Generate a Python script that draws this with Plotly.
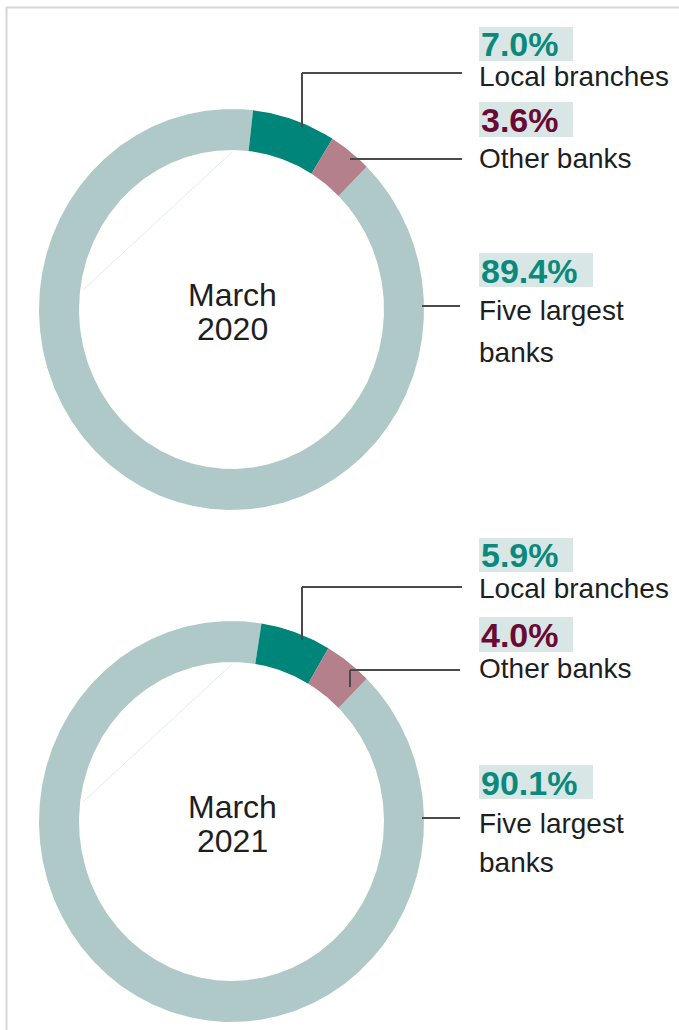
import numpy as np
import plotly.graph_objects as go

# Share of deposits by institution type
panels = ["March 2020", "March 2021"]
categories = ["Five largest banks", "Local branches", "Other banks"]
shares_2020 = [89.4, 7.0, 3.6]
shares_2021 = [90.1, 5.9, 4.0]
share_labels_2020 = ["89.4%", "7.0%", "3.6%"]
share_labels_2021 = ["90.1%", "5.9%", "4.0%"]

# Styling
FONT = "Liberation Sans, Arial, Helvetica, sans-serif"
SLICE_COLORS = ["#afc9c8", "#00857b", "#b3808b"]
VALUE_COLORS = ["#0b897d", "#0b897d", "#6a0a34"]
BOX_COLOR = "#d8e6e5"
TEXT_COLOR = "#1e1e1e"
LEADER_COLOR = "#4a4a4a"

W, H = 679, 1030
CX = 231.5
RX_OUT, RY_OUT = 192.5, 200.5
RING_X, RING_Y = 40, 41
START_DEG = 44.6  # first slice starts here, measured clockwise from 12 o'clock


def ring_segment(cx, cy, a0, a1):
    """Polygon of an elliptical ring slice between angles a0..a1 (deg, clockwise from top)."""
    n = max(int(abs(a1 - a0) * 2), 4)
    t = np.radians(np.linspace(a0, a1, n))
    xo = cx + RX_OUT * np.sin(t)
    yo = cy - RY_OUT * np.cos(t)
    xi = cx + (RX_OUT - RING_X) * np.sin(t[::-1])
    yi = cy - (RY_OUT - RING_Y) * np.cos(t[::-1])
    return np.concatenate([xo, xi, xo[:1]]), np.concatenate([yo, yi, yo[:1]])


fig = go.Figure()
shapes = []
annotations = []

panel_specs = [
    dict(title=panels[0], values=shares_2020, labels=share_labels_2020, cy=309.5,
         boxes=[(253, 287, 593), (27, 61, 573), (102, 137, 573)],
         value_y=[270.5, 43.5, 120],
         name_y=[(310, 352), (76.5,), (158,)],
         leaders=[[(422, 306), (460, 306)],
                  [(302, 127), (302, 73), (462, 73)],
                  [(350, 159), (462, 159)]],
         centre_y=(295, 329)),
    dict(title=panels[1], values=shares_2021, labels=share_labels_2021, cy=821.5,
         boxes=[(765, 799, 593), (538, 572, 573), (617, 652, 573)],
         value_y=[782.5, 555, 635],
         name_y=[(823.5, 862.5), (588,), (668,)],
         leaders=[[(422, 818), (460, 818)],
                  [(302, 640), (302, 587), (462, 587)],
                  [(350, 687), (350, 670), (460, 670)]],
         centre_y=(807, 841)),
]

name_lines = [["Five largest", "banks"], ["Local branches"], ["Other banks"]]

for spec in panel_specs:
    cy = spec["cy"]
    total = sum(spec["values"])
    a = START_DEG
    for cat, val, col in zip(categories, spec["values"], SLICE_COLORS):
        span = val / total * 360.0
        xs, ys = ring_segment(CX, cy, a, a + span)
        fig.add_trace(go.Scatter(
            x=xs, y=ys, mode="lines", fill="toself", fillcolor=col,
            line=dict(width=0, color=col), name=cat, hoverinfo="skip",
            showlegend=False))
        a += span

    # faint chord inside the hole
    shapes.append(dict(type="line", x0=83, y0=cy - 19.5, x1=232, y1=cy - 157.5,
                       line=dict(color="#e2ecea", width=1), layer="above"))

    # centre title
    word, year = spec["title"].split(" ")
    for txt, yy in zip([word, year], spec["centre_y"]):
        annotations.append(dict(x=CX + 1, y=yy, text=txt, showarrow=False,
                                xanchor="center", yanchor="middle",
                                font=dict(family=FONT, size=32, color=TEXT_COLOR)))

    for i in range(3):
        y0, y1, x1 = spec["boxes"][i]
        shapes.append(dict(type="rect", x0=479, x1=x1, y0=y0, y1=y1,
                           fillcolor=BOX_COLOR, line=dict(width=0), layer="below"))
        annotations.append(dict(x=479.5, y=spec["value_y"][i], text="<b>%s</b>" % spec["labels"][i],
                                showarrow=False, xanchor="left", yanchor="middle",
                                borderpad=0,
                                font=dict(family=FONT, size=34, color=VALUE_COLORS[i])))
        for line_txt, ly in zip(name_lines[i], spec["name_y"][i]):
            annotations.append(dict(x=478, y=ly, text=line_txt, showarrow=False,
                                    xanchor="left", yanchor="middle",
                                    borderpad=0,
                                    font=dict(family=FONT, size=28, color=TEXT_COLOR)))
        pts = spec["leaders"][i]
        for (xa, ya), (xb, yb) in zip(pts[:-1], pts[1:]):
            shapes.append(dict(type="line", x0=xa, y0=ya, x1=xb, y1=yb,
                               line=dict(color=LEADER_COLOR, width=2), layer="above"))

# panel frame
shapes.append(dict(type="line", x0=6, y0=7.5, x1=W, y1=7.5,
                   line=dict(color="#d6d6d6", width=2)))
shapes.append(dict(type="line", x0=6.5, y0=7, x1=6.5, y1=H,
                   line=dict(color="#d6d6d6", width=2)))

fig.update_layout(
    width=W, height=H,
    margin=dict(l=0, r=0, t=0, b=0),
    paper_bgcolor="white", plot_bgcolor="white",
    xaxis=dict(range=[0, W], visible=False, fixedrange=True),
    yaxis=dict(range=[H, 0], visible=False, fixedrange=True),
    shapes=shapes, annotations=annotations,
    showlegend=False, hovermode=False,
)

fig.write_html("out.html", config={"displayModeBar": False})
